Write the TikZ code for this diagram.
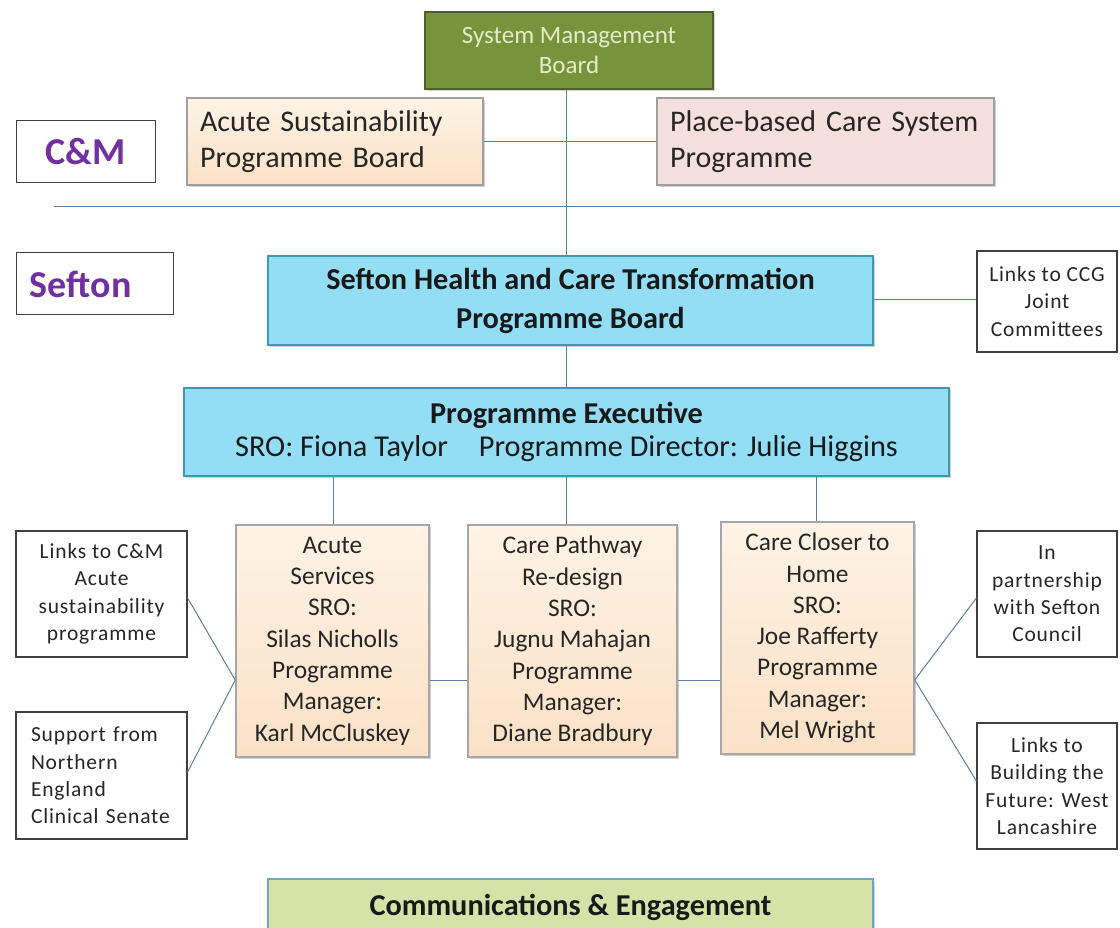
\documentclass[tikz,border=0pt]{standalone}
\usepackage{fontspec}
\setmainfont{Carlito}
\newfontfamily\smallfont[LetterSpace=4]{Carlito}
\usetikzlibrary{shadows}
\definecolor{smbfill}{HTML}{77933C}
\definecolor{smbdraw}{HTML}{4F6228}
\definecolor{smbtext}{HTML}{E2EDC8}
\definecolor{peachtop}{HTML}{FEF3E6}
\definecolor{peachbot}{HTML}{FBE1C6}
\definecolor{pinkfill}{HTML}{F6E0DE}
\definecolor{cyanfill}{HTML}{93DEF4}
\definecolor{cyandraw}{HTML}{3F97B0}
\definecolor{greenfill}{HTML}{D5E3A8}
\definecolor{greendraw}{HTML}{6FA8C0}
\definecolor{purp}{HTML}{7030A0}
\definecolor{linec}{HTML}{5A7FA6}
\definecolor{boxline}{HTML}{404040}
\tikzset{
  bevel/.style={drop shadow={opacity=0.35,shadow xshift=2pt,shadow yshift=-2pt}},
  smbbox/.style={draw=smbdraw,line width=1.5pt,fill=smbfill,text=smbtext,bevel,align=center,
    minimum width=288pt,minimum height=77pt,inner sep=0pt,font=\fontsize{25}{30}\selectfont},
  peachwide/.style={draw=gray!75,line width=1.5pt,top color=peachtop,bottom color=peachbot,bevel,
    align=left,inner ysep=0pt,minimum height=87pt,text=black!85,font=\fontsize{30}{36}\selectfont},
  pinkwide/.style={draw=gray!75,line width=1.5pt,fill=pinkfill,bevel,
    align=left,inner ysep=0pt,minimum height=87pt,text=black!85,font=\fontsize{30}{36}\selectfont},
  labelbox/.style={draw=boxline,line width=1pt,fill=white,minimum height=62pt,
    inner ysep=0pt,text=purp,font=\bfseries\fontsize{38}{40}\selectfont},
  cyanbox/.style={draw=cyandraw,line width=1.5pt,fill=cyanfill,bevel,align=center,inner sep=0pt,
    text=black!90},
  workbox/.style={draw=gray!70,line width=1.5pt,top color=peachtop,bottom color=peachbot,bevel,
    align=center,inner sep=0pt,minimum width=193pt,minimum height=232pt,text=black!85,
    font=\fontsize{25.4}{31.3}\selectfont},
  sidebox/.style={draw=boxline,line width=1.2pt,fill=white,inner sep=0pt,minimum width=140pt,
    minimum height=126pt,align=center,text=black!85,font=\smallfont\fontsize{21.5}{27.3}\selectfont},
  leftbox/.style={sidebox,minimum width=171pt},
  greenbox/.style={draw=greendraw,line width=1.5pt,fill=greenfill,bevel,inner sep=0pt,
    minimum width=605pt,minimum height=56pt,text=black!90,font=\bfseries\fontsize{30.3}{34}\selectfont},
  conn/.style={draw=linec,line width=1pt}
}
\begin{document}
\begin{tikzpicture}[x=1pt,y=-1pt]
\useasboundingbox[fill=white] (0,0) rectangle (1120,928);

% divider line
\coordinate (dl) at (54,207);
\coordinate (dr) at (1120,207);
\draw[conn] (dl) -- (dr);

\node[smbbox] (smb) at (569,50.5) {System Management\\Board};
\node[peachwide,minimum width=296pt,text width=270pt,inner xsep=13pt] (asp) at (335,141.5)
  {Acute Sustainability\\Programme Board};
\node[pinkwide,minimum width=337pt,text width=311pt,inner xsep=13pt] (pbc) at (825.5,141.5)
  {Place-based Care System\\Programme};
\node[labelbox,minimum width=139pt,inner xsep=0pt] (cm) at (85.5,151.5) {C\&M};
\node[labelbox,text width=129pt,inner xsep=14pt,align=left] (sef) at (94.5,284) {Sefton};

\node[cyanbox,minimum width=605pt,minimum height=89pt,font=\bfseries\fontsize{30.3}{39}\selectfont]
  (board) at (570.5,300.5) {Sefton Health and Care Transformation\\Programme Board};
\node[sidebox,minimum height=101pt] (ccg) at (1047,301.5) {Links to CCG\\Joint\\Committees};

\node[cyanbox,minimum width=765pt,minimum height=88pt] (pe) at (566.5,432)
  {\bfseries\fontsize{30.3}{34}\selectfont Programme Executive\\[5pt]
   \fontsize{30.3}{34}\selectfont SRO: Fiona Taylor\hspace{0.8em} Programme Director: Julie Higgins};

\node[workbox] (as) at (332.5,641)
  {Acute\\Services\\SRO:\\Silas Nicholls\\Programme\\Manager:\\Karl McCluskey};
\node[workbox,minimum width=209pt] (cp) at (572.5,641)
  {Care Pathway\\Re-design\\SRO:\\Jugnu Mahajan\\Programme\\Manager:\\Diane Bradbury};
\node[workbox] (cc) at (817.5,638)
  {Care Closer to\\Home\\SRO:\\Joe Rafferty\\Programme\\Manager:\\Mel Wright};

\node[leftbox] (lcm) at (101.5,594)
  {Links to C\&M\\Acute\\sustainability\\programme};
\node[leftbox,minimum height=127pt,align=left,text width=141pt,inner xsep=15pt] (sup) at (101.5,775.5)
  {Support from\\Northern\\England\\Clinical Senate};
\node[sidebox] (part) at (1047,594) {In\\partnership\\with Sefton\\Council};
\node[sidebox] (bld) at (1047,786) {Links to\\Building the\\Future: West\\Lancashire};

\node[greenbox] (comm) at (570.5,907) {Communications \& Engagement};

% connectors
\coordinate (cx) at (566,0);
\draw[conn] (smb.south -| cx) -- (board.north -| cx);
\draw[conn] (asp.east) -- (asp.east -| pbc.west);
\draw[conn] (board.east |- 0,300) -- (ccg.west |- 0,300);
\draw[conn] (board.south -| cx) -- (pe.north -| cx);
\draw[conn] (pe.south -| 333,0) -- (as.north -| 333,0);
\draw[conn] (pe.south -| cx) -- (cp.north -| cx);
\draw[conn] (pe.south -| 816,0) -- (cc.north -| 816,0);
\draw[conn] (as.east |- 0,680) -- (cp.west |- 0,680);
\draw[conn] (cp.east |- 0,680) -- (cc.west |- 0,680);
\draw[conn] (lcm.east |- 0,598) -- (as.west |- 0,680);
\draw[conn] (sup.east |- 0,772) -- (as.west |- 0,680);
\draw[conn] (part.west |- 0,598) -- (cc.east |- 0,680);
\draw[conn] (bld.west |- 0,781) -- (cc.east |- 0,680);
\end{tikzpicture}
\end{document}
